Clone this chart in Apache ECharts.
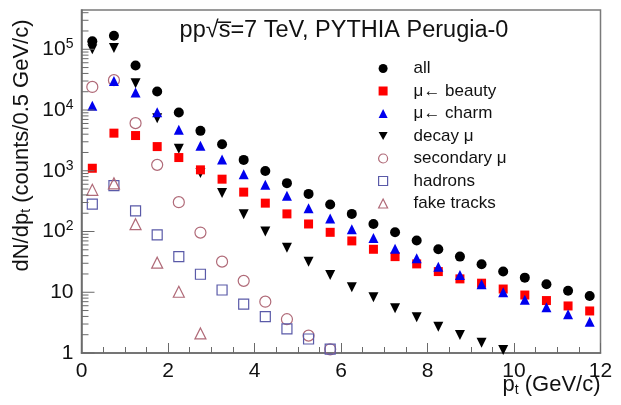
<!DOCTYPE html>
<html>
<head>
<meta charset="utf-8">
<script src="https://cdn.jsdelivr.net/npm/echarts@6/dist/echarts.min.js"></script>
<style>
  html, body { margin: 0; padding: 0; background: #fff; }
  #chart { width: 621px; height: 405px; }
</style>
</head>
<body>
<div id="chart"></div>
<script>
// Muon candidate pt spectra, pp at 7 TeV, PYTHIA Perugia-0 (counts per 0.5 GeV/c bin)
const ptBins = [0.25, 0.75, 1.25, 1.75, 2.25, 2.75, 3.25, 3.75, 4.25, 4.75, 5.25, 5.75,
                6.25, 6.75, 7.25, 7.75, 8.25, 8.75, 9.25, 9.75, 10.25, 10.75, 11.25, 11.75];

const allMu     = [1.35e5, 1.67e5, 5.4e4, 2.02e4, 9100, 4540, 2740, 1510, 990, 625, 416, 278,
                   195, 133, 97, 71, 51, 38.6, 28.9, 21.9, 17.4, 13.5, 10.6, 8.7];
const beautyMu  = [1100, 4160, 3800, 2500, 1650, 1035, 727, 445, 293, 195, 133, 97,
                   70, 51, 38.6, 29.3, 21.9, 16.6, 14.1, 11.3, 9.0, 7.3, 5.95, 4.92];
const charmMu   = [1.17e4, 3.0e4, 1.94e4, 9230, 4720, 2570, 1530, 880, 590, 386, 242, 163,
                   109, 78, 52, 36.3, 26.4, 19.3, 13.5, 10.0, 7.5, 5.66, 4.34, 3.28];
const decayMu   = [1.0e5, 1.05e5, 2.77e4, 7350, 2300, 915, 430, 193, 100, 54, 31.9, 19.3,
                   12.1, 8.3, 5.45, 3.87, 2.71, 1.98, 1.48, 1.12];
const secondaryMu = [2.4e4, 3.1e4, 6080, 1250, 304, 96, 31.9, 15.4, 7.0, 3.6, 1.93, 1.15];
const hadrons   = [282, 570, 218, 88, 38.6, 19.8, 10.9, 6.4, 3.96, 2.5, 1.7, 1.16];
const fakeTracks = [485, 620, 132, 30.7, 10.2, 2.1];

const seriesNames = ['all', '\u03bc\u2190 beauty', '\u03bc\u2190 charm', 'decay \u03bc',
                     'secondary \u03bc', 'hadrons', 'fake tracks'];

const xTicks = [0, 2, 4, 6, 8, 10, 12];
const yMax = 4.43e5;

const FONT = '"Liberation Sans", Arial, Helvetica, sans-serif';
const TRI_DOWN = 'path://M0,0L10,0L5,9Z';

function pairs(vals) {
  return vals.map((v, i) => [ptBins[i], v]);
}

const styles = [
  { symbol: 'circle', size: 10, item: { color: '#000000', opacity: 1 } },
  { symbol: 'rect', size: 9, item: { color: '#ff0000', opacity: 1 } },
  { symbol: 'triangle', size: 10, item: { color: '#0000ee', opacity: 1 } },
  { symbol: TRI_DOWN, size: 10, item: { color: '#000000', opacity: 1 } },
  { symbol: 'circle', size: 11, item: { color: 'rgba(0,0,0,0)', borderColor: '#b06a78', borderWidth: 1.2, opacity: 1 } },
  { symbol: 'rect', size: 10, item: { color: 'rgba(0,0,0,0)', borderColor: '#5a5aa8', borderWidth: 1.2, opacity: 1 } },
  { symbol: 'triangle', size: 11, item: { color: 'rgba(0,0,0,0)', borderColor: '#b06a78', borderWidth: 1.2, opacity: 1 } }
];
const dataSets = [allMu, beautyMu, charmMu, decayMu, secondaryMu, hadrons, fakeTracks];
const drawOrder = [4, 5, 6, 3, 1, 2, 0];

const series = drawOrder.map(idx => ({
  name: seriesNames[idx],
  type: 'scatter',
  data: pairs(dataSets[idx]),
  symbol: styles[idx].symbol,
  symbolSize: styles[idx].size,
  itemStyle: styles[idx].item,
  z: 3,
  silent: true,
  animation: false
}));

const legendData = seriesNames.map((n, i) => ({
  name: n,
  icon: styles[i].symbol,
  itemStyle: styles[i].item
}));

function supLabel(v) {
  if (v === 1) return '1';
  if (v === 10) return '10';
  const e = Math.round(Math.log10(v));
  if (Math.abs(v - Math.pow(10, e)) > 1e-6 * v) return '';
  return '10{sup|' + e + '}';
}

const chart = echarts.init(document.getElementById('chart'), null, { renderer: 'canvas' });

chart.setOption({
  animation: false,
  backgroundColor: '#ffffff',
  textStyle: { fontFamily: FONT },
  grid: {
    left: 81.5, right: 20.5, top: 10, bottom: 52,
    show: true, borderColor: '#7a7a7a', borderWidth: 1.5, backgroundColor: 'transparent'
  },
  xAxis: {
    type: 'value', min: 0, max: 12, interval: 2,
    axisLine: { show: true, onZero: false, lineStyle: { color: '#6a6a6a', width: 1.5 } },
    axisTick: { show: true, inside: true, length: 10, lineStyle: { color: '#6a6a6a', width: 1 } },
    minorTick: { show: true, splitNumber: 4, length: 6, lineStyle: { color: '#6a6a6a', width: 1 } },
    splitLine: { show: false },
    axisLabel: { color: '#111', fontSize: 21, margin: 8, fontFamily: FONT,
                 formatter: v => (xTicks.indexOf(v) >= 0 ? String(v) : '') }
  },
  yAxis: {
    type: 'log', logBase: 10, min: 1, max: yMax,
    axisLine: { show: true, lineStyle: { color: '#6a6a6a', width: 1.5 } },
    axisTick: { show: false },
    splitLine: { show: false },
    axisLabel: {
      color: '#111', fontSize: 21, margin: 8, fontFamily: FONT,
      formatter: v => supLabel(v),
      rich: { sup: { fontSize: 14, padding: [0, 0, 10, 0], fontFamily: FONT, color: '#111' } }
    }
  },
  legend: {
    orient: 'vertical', left: 378, top: 58.5, padding: 0,
    itemWidth: 9, itemHeight: 9, itemGap: 2.5,
    textStyle: { fontSize: 17, color: '#111', fontFamily: FONT, lineHeight: 20, padding: [0, 0, 0, 21] },
    data: legendData,
    selectedMode: false
  },
  series: series
});

// Tick marks on the logarithmic axis (major decades and 2..9 sub-divisions), plus titles
function drawDecorations() {
  const elems = [];
  const x0 = chart.convertToPixel({ xAxisIndex: 0 }, 0);
  for (let k = 0; k <= 5; k++) {
    for (let m = 1; m <= 9; m++) {
      const v = m * Math.pow(10, k);
      if (v > yMax) continue;
      const y = chart.convertToPixel({ yAxisIndex: 0 }, v);
      const len = m === 1 ? 13 : 7;
      elems.push({
        type: 'line', silent: true, z: 10,
        shape: { x1: x0, y1: y, x2: x0 + len, y2: y },
        style: { stroke: '#6a6a6a', lineWidth: 1 }
      });
    }
  }
  const topY = chart.convertToPixel({ yAxisIndex: 0 }, yMax);
  const rightX = chart.convertToPixel({ xAxisIndex: 0 }, 12);
  const bottomY = chart.convertToPixel({ yAxisIndex: 0 }, 1);
  elems.push({
    type: 'text', silent: true,
    x: (x0 + rightX) / 2 + 3, y: topY + 21,
    style: {
      text: 'pp\u221As\u0305=7 TeV, PYTHIA Perugia-0',
      font: '23.5px ' + FONT, fill: '#111', align: 'center', verticalAlign: 'middle'
    }
  });
  elems.push({
    type: 'text', silent: true,
    x: 22, y: (topY + bottomY) / 2 - 36, rotation: Math.PI / 2,
    style: {
      text: 'dN/dp{sub|t} (counts/0.5 GeV/c)',
      font: '22px ' + FONT, fill: '#111', align: 'center', verticalAlign: 'middle',
      rich: { sub: { fontSize: 14, fontFamily: FONT, fill: '#111', padding: [9, 0, 0, 0] } }
    }
  });
  elems.push({
    type: 'text', silent: true,
    x: rightX, y: bottomY + 32,
    style: {
      text: 'p{sub|t} (GeV/c)',
      font: '22px ' + FONT, fill: '#111', align: 'right', verticalAlign: 'middle',
      rich: { sub: { fontSize: 14, fontFamily: FONT, fill: '#111', padding: [10, 0, 0, 0] } }
    }
  });
  chart.setOption({ graphic: elems });
}
drawDecorations();
</script>
</body>
</html>
